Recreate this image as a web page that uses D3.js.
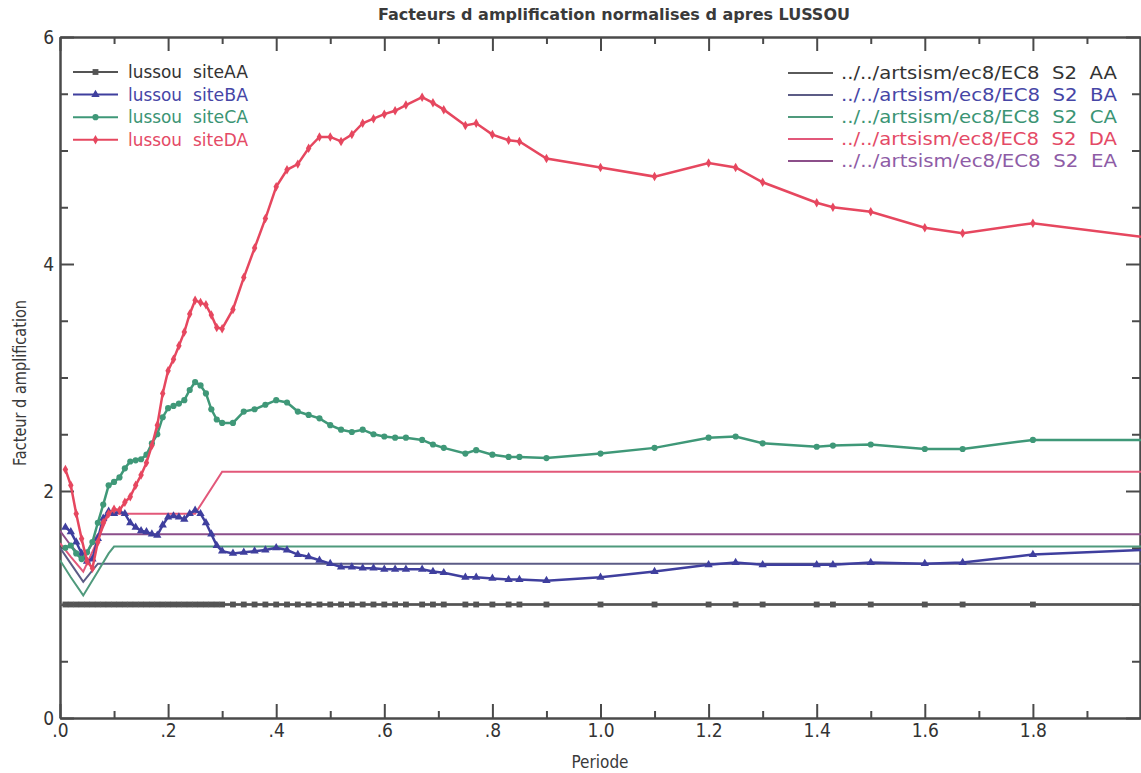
<!DOCTYPE html>
<html>
<head>
<meta charset="utf-8">
<script src="https://cdn.jsdelivr.net/npm/d3@7"></script>
<style>
  html, body { margin: 0; padding: 0; background: #fff; }
  svg text { font-family: "DejaVu Sans Condensed", "DejaVu Sans", sans-serif; font-stretch: condensed; }
</style>
</head>
<body>
<svg id="chart" width="1141" height="773"></svg>
<script>
// periods sampled for the lussou curves
var periodes = [0.01, 0.02, 0.03, 0.04, 0.05, 0.06, 0.07, 0.08, 0.09, 0.10,
  0.11, 0.12, 0.13, 0.14, 0.15, 0.16, 0.17, 0.18, 0.19, 0.20,
  0.21, 0.22, 0.23, 0.24, 0.25, 0.26, 0.27, 0.28, 0.29, 0.30,
  0.32, 0.34, 0.36, 0.38, 0.40, 0.42, 0.44, 0.46, 0.48, 0.50,
  0.52, 0.54, 0.56, 0.58, 0.60, 0.62, 0.64, 0.67, 0.69, 0.71,
  0.75, 0.77, 0.80, 0.83, 0.85, 0.90, 1.00, 1.10, 1.20, 1.25,
  1.30, 1.40, 1.43, 1.50, 1.60, 1.67, 1.80, 2.00];

var siteAA = periodes.map(function() { return 1.0; });

var siteBA = [1.68, 1.64, 1.55, 1.45, 1.38, 1.40, 1.58, 1.76, 1.82, 1.80,
  1.82, 1.80, 1.72, 1.68, 1.65, 1.64, 1.62, 1.61, 1.70, 1.77,
  1.78, 1.77, 1.75, 1.80, 1.83, 1.80, 1.72, 1.62, 1.52, 1.47,
  1.45, 1.46, 1.47, 1.48, 1.50, 1.48, 1.44, 1.42, 1.39, 1.36,
  1.33, 1.33, 1.32, 1.32, 1.31, 1.31, 1.31, 1.31, 1.29, 1.28,
  1.24, 1.24, 1.23, 1.22, 1.22, 1.21, 1.24, 1.29, 1.35, 1.37,
  1.35, 1.35, 1.35, 1.37, 1.36, 1.37, 1.44, 1.48];

var siteCA = [1.50, 1.52, 1.45, 1.40, 1.46, 1.55, 1.72, 1.88, 2.05, 2.08,
  2.12, 2.20, 2.26, 2.27, 2.28, 2.32, 2.42, 2.50, 2.65, 2.73,
  2.75, 2.77, 2.80, 2.89, 2.96, 2.93, 2.86, 2.72, 2.63, 2.60,
  2.60, 2.70, 2.72, 2.76, 2.80, 2.78, 2.70, 2.67, 2.64, 2.58,
  2.54, 2.52, 2.54, 2.50, 2.48, 2.47, 2.47, 2.45, 2.41, 2.38,
  2.33, 2.36, 2.32, 2.30, 2.30, 2.29, 2.33, 2.38, 2.47, 2.48,
  2.42, 2.39, 2.40, 2.41, 2.37, 2.37, 2.45, 2.45];

var siteDA = [2.19, 2.05, 1.80, 1.58, 1.38, 1.32, 1.55, 1.72, 1.80, 1.84,
  1.83, 1.90, 1.95, 2.05, 2.14, 2.25, 2.40, 2.58, 2.86, 3.06,
  3.16, 3.28, 3.40, 3.56, 3.68, 3.66, 3.64, 3.55, 3.44, 3.43,
  3.60, 3.88, 4.14, 4.40, 4.68, 4.83, 4.88, 5.02, 5.12, 5.12,
  5.08, 5.14, 5.24, 5.28, 5.32, 5.35, 5.40, 5.47, 5.42, 5.36,
  5.22, 5.24, 5.14, 5.09, 5.08, 4.93, 4.85, 4.77, 4.89, 4.85,
  4.72, 4.54, 4.50, 4.46, 4.32, 4.27, 4.36, 4.24];

// EC8 S2 normalised spectra
var ec8Periodes = [0, 0.02, 0.043, 0.07, 0.09, 0.10, 0.25, 0.30, 2.0];
var ec8AA = [1.00, 1.00, 1.00, 1.00, 1.00, 1.00, 1.00, 1.00, 1.00];
var ec8BA = [1.50, 1.36, 1.20, 1.36, 1.36, 1.36, 1.36, 1.36, 1.36];
var ec8CA = [1.39, 1.24, 1.08, 1.29, 1.45, 1.51, 1.51, 1.51, 1.51];
var ec8DA = [1.54, 1.42, 1.29, 1.57, 1.80, 1.80, 1.80, 2.17, 2.17];
var ec8EA = [1.65, 1.52, 1.40, 1.62, 1.62, 1.62, 1.62, 1.62, 1.62];

var xTicks = [0, 0.2, 0.4, 0.6, 0.8, 1.0, 1.2, 1.4, 1.6, 1.8];
var yTicks = [0, 2, 4, 6];

var svg = d3.select('#chart');

// note: "top" is taken by window.top, so the frame uses its own names
var pLeft = 60, pRight = 1141, pTop = 37, pBottom = 718;

var x = d3.scaleLinear().domain([0, 2]).range([pLeft, pRight]),
    y = d3.scaleLinear().domain([0, 6]).range([pBottom, pTop]);

var axisColor = '#4a4a4a';

svg.append('defs').append('clipPath').attr('id', 'plot')
  .append('rect')
  .attr('x', pLeft).attr('y', pTop)
  .attr('width', pRight - pLeft).attr('height', pBottom - pTop);

// ----- axes: ticks point inward on all four sides
var xMinor = d3.range(0, 2.001, 0.1).filter(function(v) { return Math.round(v * 10) % 2 === 1; }),
    yMinor = d3.range(0, 6.001, 0.5).filter(function(v) { return v % 2 !== 0; });

var fmtX = function(d) { return d < 1 ? d.toFixed(1).slice(1) : d.toFixed(1); };

svg.append('g').attr('transform', 'translate(0,' + pBottom + ')')
  .call(d3.axisBottom(x).tickValues(xTicks).tickSizeInner(-14).tickSizeOuter(0).tickFormat(fmtX).tickPadding(6))
  .attr('class', 'ax');
svg.append('g').attr('transform', 'translate(0,' + pBottom + ')')
  .call(d3.axisBottom(x).tickValues(xMinor).tickSizeInner(-7).tickSizeOuter(0).tickFormat(''))
  .attr('class', 'ax');
svg.append('g').attr('transform', 'translate(0,' + pTop + ')')
  .call(d3.axisTop(x).tickValues(xTicks).tickSizeInner(-14).tickSizeOuter(0).tickFormat(''))
  .attr('class', 'ax');
svg.append('g').attr('transform', 'translate(0,' + pTop + ')')
  .call(d3.axisTop(x).tickValues(xMinor).tickSizeInner(-7).tickSizeOuter(0).tickFormat(''))
  .attr('class', 'ax');

svg.append('g').attr('transform', 'translate(' + pLeft + ',0)')
  .call(d3.axisLeft(y).tickValues(yTicks).tickSizeInner(-14).tickSizeOuter(0).tickFormat(d3.format('d')).tickPadding(6))
  .attr('class', 'ax');
svg.append('g').attr('transform', 'translate(' + pLeft + ',0)')
  .call(d3.axisLeft(y).tickValues(yMinor).tickSizeInner(-8).tickSizeOuter(0).tickFormat(''))
  .attr('class', 'ax');
svg.append('g').attr('transform', 'translate(' + (pRight - 1) + ',0)')
  .call(d3.axisRight(y).tickValues(yTicks).tickSizeInner(-14).tickSizeOuter(0).tickFormat(''))
  .attr('class', 'ax');
svg.append('g').attr('transform', 'translate(' + (pRight - 1) + ',0)')
  .call(d3.axisRight(y).tickValues(yMinor).tickSizeInner(-8).tickSizeOuter(0).tickFormat(''))
  .attr('class', 'ax');

svg.selectAll('.ax path, .ax line').attr('stroke', axisColor).attr('stroke-width', 2);
svg.selectAll('.ax text').attr('fill', '#333').attr('font-size', 19)
  .attr('font-family', '"DejaVu Sans Condensed", "DejaVu Sans", sans-serif');

// ----- curves
var line = d3.line()
  .x(function(d) { return x(d[0]); })
  .y(function(d) { return y(d[1]); });

var plot = svg.append('g').attr('clip-path', 'url(#plot)');

var ec8 = [
  { name: '../../artsism/ec8/EC8  S2  AA', vals: ec8AA, stroke: '#5a5a5a', text: '#333333' },
  { name: '../../artsism/ec8/EC8  S2  BA', vals: ec8BA, stroke: '#5c5c86', text: '#4646a6' },
  { name: '../../artsism/ec8/EC8  S2  CA', vals: ec8CA, stroke: '#4f9a7c', text: '#3b9474' },
  { name: '../../artsism/ec8/EC8  S2  DA', vals: ec8DA, stroke: '#e2587a', text: '#e44a66' },
  { name: '../../artsism/ec8/EC8  S2  EA', vals: ec8EA, stroke: '#8c4f8a', text: '#8e5ca6' }
];

ec8.forEach(function(s) {
  plot.append('path')
    .datum(d3.zip(ec8Periodes, s.vals))
    .attr('d', line)
    .attr('fill', 'none')
    .attr('stroke', s.stroke)
    .attr('stroke-width', 2);
});

var lussou = [
  { name: 'siteAA', vals: siteAA, color: '#545454', text: '#333333', sym: d3.symbolSquare, size: 34 },
  { name: 'siteBA', vals: siteBA, color: '#3f3f9e', text: '#4646a6', sym: d3.symbolTriangle, size: 30 },
  { name: 'siteCA', vals: siteCA, color: '#3f9878', text: '#3b9474', sym: d3.symbolCircle, size: 30 },
  { name: 'siteDA', vals: siteDA, color: '#e6475f', text: '#e44a66', sym: d3.symbolDiamond, size: 26 }
];

lussou.forEach(function(s) {
  var pts = d3.zip(periodes, s.vals);
  plot.append('path')
    .datum(pts)
    .attr('d', line)
    .attr('fill', 'none')
    .attr('stroke', s.color)
    .attr('stroke-width', 2.5);

  // last sample sits on the frame, no marker there
  plot.selectAll(null)
    .data(pts.slice(0, -1))
    .enter().append('path')
    .attr('transform', function(d) { return 'translate(' + x(d[0]) + ',' + y(d[1]) + ')'; })
    .attr('d', d3.symbol().type(s.sym).size(s.size))
    .attr('fill', s.color);
});

// ----- legends
var legL = svg.append('g');
lussou.forEach(function(s, i) {
  var ly = 72 + i * 22.6;
  legL.append('line')
    .attr('x1', 73).attr('x2', 118).attr('y1', ly).attr('y2', ly)
    .attr('stroke', s.color).attr('stroke-width', 2);
  legL.append('path')
    .attr('transform', 'translate(95.5,' + ly + ')')
    .attr('d', d3.symbol().type(s.sym).size(s.size))
    .attr('fill', s.color);
  legL.append('text')
    .attr('x', 128).attr('y', ly + 6)
    .attr('font-size', 18).attr('fill', s.text)
    .attr('textLength', 54).attr('lengthAdjust', 'spacingAndGlyphs')
    .text('lussou');
  legL.append('text')
    .attr('x', 193).attr('y', ly + 6)
    .attr('font-size', 18).attr('fill', s.text)
    .attr('textLength', 55).attr('lengthAdjust', 'spacingAndGlyphs')
    .text(s.name);
});

var legR = svg.append('g');
ec8.forEach(function(s, i) {
  var ly = 73 + i * 22;
  legR.append('line')
    .attr('x1', 788).attr('x2', 833).attr('y1', ly).attr('y2', ly)
    .attr('stroke', s.stroke).attr('stroke-width', 2);
  legR.append('text')
    .attr('x', 841).attr('y', ly + 6)
    .attr('font-size', 18).attr('fill', s.text)
    .attr('textLength', 276).attr('lengthAdjust', 'spacingAndGlyphs')
    .attr('xml:space', 'preserve')
    .text(s.name);
});

// ----- titles
svg.append('text')
  .attr('x', 614).attr('y', 20)
  .attr('text-anchor', 'middle')
  .attr('font-size', 16).attr('font-weight', 'bold').attr('fill', '#3a3a3a')
  .attr('textLength', 472).attr('lengthAdjust', 'spacingAndGlyphs')
  .text('Facteurs d amplification normalises d apres LUSSOU');

svg.append('text')
  .attr('x', 600).attr('y', 768)
  .attr('text-anchor', 'middle')
  .attr('font-size', 17).attr('fill', '#3a3a3a')
  .text('Periode');

svg.append('text')
  .attr('transform', 'translate(26,383) rotate(-90)')
  .attr('text-anchor', 'middle')
  .attr('font-size', 17).attr('fill', '#3a3a3a')
  .attr('textLength', 166).attr('lengthAdjust', 'spacingAndGlyphs')
  .text('Facteur d amplification');
</script>
</body>
</html>
